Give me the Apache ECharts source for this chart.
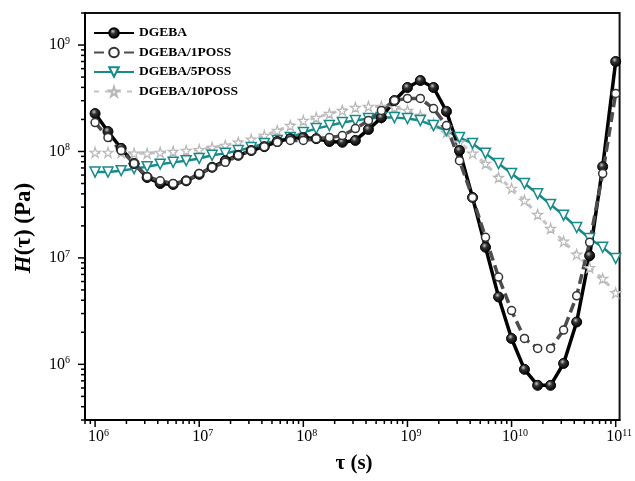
<!DOCTYPE html>
<html>
<head>
<meta charset="utf-8">
<script src="https://cdn.jsdelivr.net/npm/echarts@6/dist/echarts.min.js"></script>
<style>
  html, body { margin: 0; padding: 0; background: #fff; }
  #chart { width: 635px; height: 481px; }
</style>
</head>
<body>
<div id="chart"></div>
<script>
// relaxation time tau (s), 8 points per decade
const tau = [
  1.00e6, 1.33e6, 1.78e6, 2.37e6, 3.16e6, 4.22e6, 5.62e6, 7.50e6,
  1.00e7, 1.33e7, 1.78e7, 2.37e7, 3.16e7, 4.22e7, 5.62e7, 7.50e7,
  1.00e8, 1.33e8, 1.78e8, 2.37e8, 3.16e8, 4.22e8, 5.62e8, 7.50e8,
  1.00e9, 1.33e9, 1.78e9, 2.37e9, 3.16e9, 4.22e9, 5.62e9, 7.50e9,
  1.00e10, 1.33e10, 1.78e10, 2.37e10, 3.16e10, 4.22e10, 5.62e10, 7.50e10,
  1.00e11
]
// H(tau) in Pa
const dgeba = [
  2.27e8, 1.54e8, 1.07e8, 7.7e7, 5.7e7, 5.0e7, 4.9e7, 5.3e7,
  6.1e7, 7.1e7, 8.2e7, 9.2e7, 1.02e8, 1.11e8, 1.24e8, 1.32e8,
  1.35e8, 1.32e8, 1.24e8, 1.22e8, 1.27e8, 1.61e8, 2.08e8, 3.01e8,
  3.99e8, 4.64e8, 3.99e8, 2.38e8, 1.02e8, 3.7e7, 1.26e7, 4.3e6,
  1.75e6, 8.98e5, 6.35e5, 6.35e5, 1.02e6, 2.5e6, 1.05e7, 7.2e7,
  7.0e8
]
const poss1 = [
  1.87e8, 1.35e8, 1.02e8, 7.7e7, 5.8e7, 5.3e7, 5.0e7, 5.3e7,
  6.2e7, 7.1e7, 7.9e7, 9.2e7, 1.02e8, 1.11e8, 1.22e8, 1.27e8,
  1.27e8, 1.32e8, 1.35e8, 1.41e8, 1.64e8, 1.95e8, 2.43e8, 3.01e8,
  3.15e8, 3.15e8, 2.53e8, 1.75e8, 8.2e7, 3.7e7, 1.56e7, 6.6e6,
  3.2e6, 1.75e6, 1.41e6, 1.41e6, 2.1e6, 4.4e6, 1.40e7, 6.2e7,
  3.51e8
]
const poss5 = [
  6.4e7, 6.4e7, 6.6e7, 6.9e7, 7.2e7, 7.6e7, 7.9e7, 8.2e7,
  8.6e7, 9.2e7, 9.6e7, 1.02e8, 1.09e8, 1.19e8, 1.27e8, 1.35e8,
  1.51e8, 1.64e8, 1.75e8, 1.87e8, 1.95e8, 2.04e8, 2.08e8, 2.08e8,
  2.04e8, 1.95e8, 1.75e8, 1.57e8, 1.35e8, 1.19e8, 9.6e7, 7.7e7,
  6.2e7, 5.0e7, 4.0e7, 3.18e7, 2.51e7, 1.93e7, 1.52e7, 1.26e7,
  9.9e6
]
const poss10 = [
  9.8e7, 9.8e7, 9.8e7, 9.6e7, 9.6e7, 9.8e7, 1.00e8, 1.02e8,
  1.04e8, 1.09e8, 1.14e8, 1.22e8, 1.30e8, 1.41e8, 1.57e8, 1.75e8,
  1.95e8, 2.08e8, 2.27e8, 2.43e8, 2.59e8, 2.65e8, 2.65e8, 2.59e8,
  2.43e8, 2.18e8, 1.83e8, 1.51e8, 1.22e8, 9.6e7, 7.7e7, 5.7e7,
  4.5e7, 3.47e7, 2.56e7, 1.89e7, 1.43e7, 1.08e7, 8.1e6, 6.4e6,
  4.7e6
]
const seriesNames = ["DGEBA", "DGEBA/1POSS", "DGEBA/5POSS", "DGEBA/10POSS"]

// axis ranges and tick multipliers (1 = major tick)
const X_MIN = 8e5, X_MAX = 1.09e11
const Y_MIN = 3e5, Y_MAX = 2e9
const tickMultipliers = [1, 2, 3, 4, 5, 6, 7, 8, 9]

const FONT = "'Times New Roman', 'Liberation Serif', serif"
const TEAL = "#178a8a"
const STAR = "path://M50,0 L61,35 L98,35 L68,57 L79,91 L50,70 L21,91 L32,57 L2,35 L39,35 Z"

const pairs = (ys) => tau.map((t, i) => [t, ys[i]])

const logTicks = (min, max) => {
  let out = []
  for (let d = Math.floor(Math.log10(min)); d <= Math.ceil(Math.log10(max)); d++) {
    tickMultipliers.forEach((m) => {
      const v = m * Math.pow(10, d)
      if (v >= min * 0.999 && v <= max * 1.001) out.push({ v: v, major: m === 1 ? 1 : 0 })
    })
  }
  return out
}

const powLabel = (v) => {
  const e = Math.round(Math.log10(v))
  if (Math.abs(v / Math.pow(10, e) - 1) > 1e-6) return ""
  return "{b|10}{s|" + e + "}"
}
const labelRich = {
  b: { fontFamily: FONT, fontSize: 16, color: "#000", lineHeight: 18 },
  s: { fontFamily: FONT, fontSize: 10, color: "#000", lineHeight: 10, verticalAlign: "top" }
}

const renderTick = (params, api) => {
  const p = api.coord([api.value(0), api.value(1)])
  const len = api.value(2) ? 7 : 4
  const shape = api.value(3)
    ? { x1: p[0] - len, y1: p[1], x2: p[0], y2: p[1] }
    : { x1: p[0], y1: p[1], x2: p[0], y2: p[1] + len }
  return { type: "line", shape: shape, style: { stroke: "#000", lineWidth: 1.5 } }
}

const xTicks = logTicks(X_MIN, X_MAX).map((t) => [t.v, Y_MIN, t.major, 0])
const yTicks = logTicks(Y_MIN, Y_MAX).map((t) => [X_MIN, t.v, t.major, 1])

const option = {
  animation: false,
  backgroundColor: "#fff",
  grid: { left: 85, right: 12, top: 13, bottom: 61, show: true, borderColor: "#111", borderWidth: 2 },
  xAxis: {
    type: "log",
    min: X_MIN,
    max: X_MAX,
    axisLine: { show: true, lineStyle: { color: "#000", width: 2 } },
    axisTick: { show: false },
    splitLine: { show: false },
    axisLabel: { margin: 8, padding: [0, 0, 0, 7], formatter: powLabel, rich: labelRich, hideOverlap: false }
  },
  yAxis: {
    type: "log",
    min: Y_MIN,
    max: Y_MAX,
    axisLine: { show: true, lineStyle: { color: "#000", width: 2 } },
    axisTick: { show: false },
    splitLine: { show: false },
    axisLabel: { margin: 15, formatter: powLabel, rich: labelRich, hideOverlap: false }
  },
  legend: {
    data: seriesNames,
    orient: "vertical",
    left: 88,
    top: 21,
    itemWidth: 40,
    itemHeight: 12,
    itemGap: 5.5,
    textStyle: { fontFamily: FONT, fontWeight: "bold", fontSize: 13.5, color: "#000", lineHeight: 14 }
  },
  graphic: [
    {
      type: "text",
      x: 354,
      y: 464,
      style: {
        text: "τ (s)",
        fontFamily: FONT,
        fontWeight: "bold",
        fontSize: 21,
        fill: "#000",
        align: "center",
        verticalAlign: "middle"
      }
    },
    {
      type: "text",
      x: 24,
      y: 228,
      rotation: Math.PI / 2,
      style: {
        text: "{i|H}{n|(τ) (Pa)}",
        rich: {
          i: { fontFamily: FONT, fontWeight: "bold", fontStyle: "italic", fontSize: 23, fill: "#000" },
          n: { fontFamily: FONT, fontWeight: "bold", fontSize: 23, fill: "#000" }
        },
        align: "center",
        verticalAlign: "middle"
      }
    }
  ],
  series: [
    {
      name: "DGEBA/10POSS",
      type: "line",
      data: pairs(poss10),
      symbol: STAR,
      symbolSize: 10,
      lineStyle: { color: "#c4c4c4", width: 3, type: [5, 6] },
      itemStyle: { color: "#fff", borderColor: "#b8b8b8", borderWidth: 1.2 }
    },
    {
      name: "DGEBA/5POSS",
      type: "line",
      data: pairs(poss5),
      symbol: "triangle",
      symbolRotate: 180,
      symbolSize: 10,
      lineStyle: { color: TEAL, width: 2.5 },
      itemStyle: { color: "#fff", borderColor: TEAL, borderWidth: 1.5 }
    },
    {
      name: "DGEBA",
      type: "line",
      data: pairs(dgeba),
      symbol: "circle",
      symbolSize: 10,
      lineStyle: { color: "#000", width: 3.5 },
      itemStyle: {
        color: {
          type: "radial",
          x: 0.4,
          y: 0.35,
          r: 0.65,
          colorStops: [
            { offset: 0, color: "#c8c8c8" },
            { offset: 0.35, color: "#333" },
            { offset: 1, color: "#000" }
          ]
        },
        borderColor: "#000",
        borderWidth: 1
      }
    },
    {
      name: "DGEBA/1POSS",
      type: "line",
      data: pairs(poss1),
      symbol: "circle",
      symbolSize: 8,
      lineStyle: { color: "#4d4d4d", width: 3.5, type: [10, 5] },
      itemStyle: { color: "#fff", borderColor: "#333", borderWidth: 1.5 }
    },
    { type: "custom", silent: true, clip: false, renderItem: renderTick, data: xTicks, z: 5 },
    { type: "custom", silent: true, clip: false, renderItem: renderTick, data: yTicks, z: 5 }
  ]
}

const chart = echarts.init(document.getElementById("chart"))
chart.setOption(option)
</script>
</body>
</html>
